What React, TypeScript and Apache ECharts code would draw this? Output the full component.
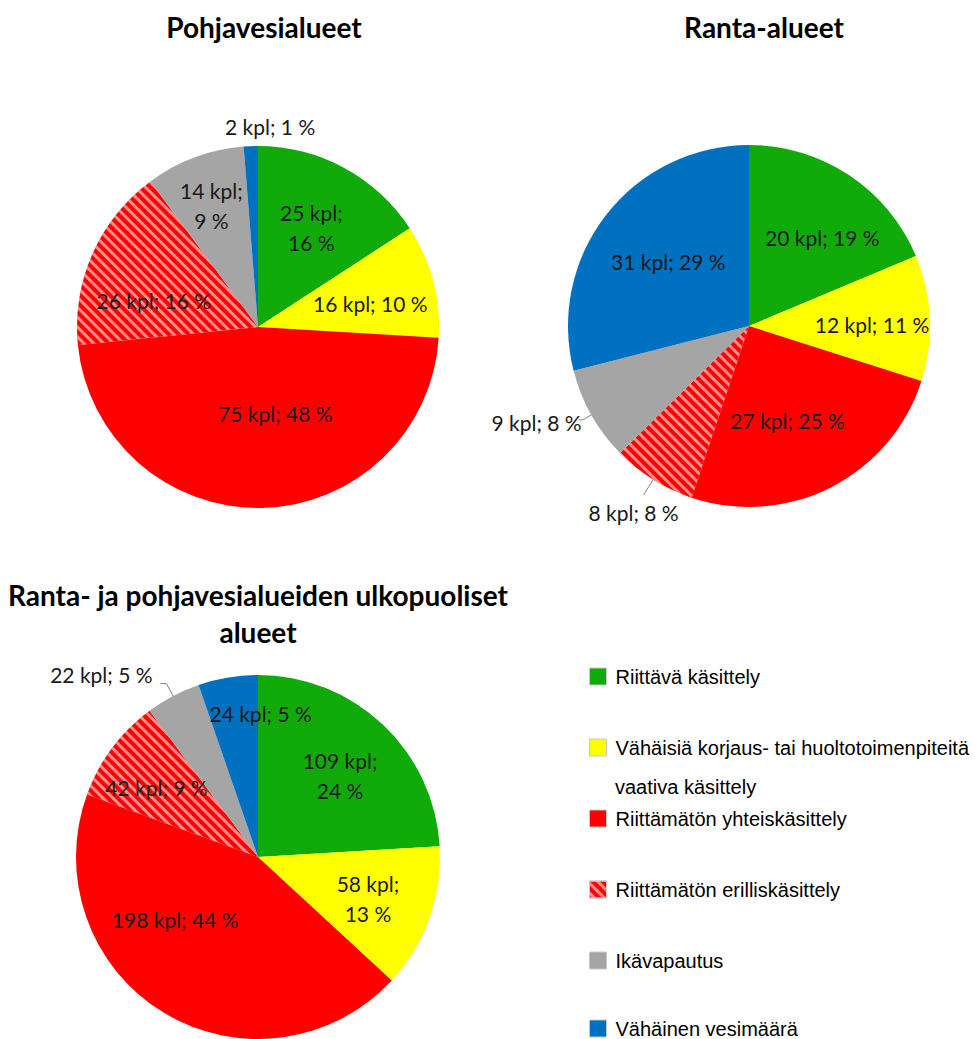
import React, { useEffect, useRef } from 'react';
import * as echarts from 'echarts';

const categories = [
  'Riittävä käsittely',
  'Vähäisiä korjaus- tai huoltotoimenpiteitä vaativa käsittely',
  'Riittämätön yhteiskäsittely',
  'Riittämätön erilliskäsittely',
  'Ikävapautus',
  'Vähäinen vesimäärä',
];
const legendFirstLines = [
  'Riittävä käsittely',
  'Vähäisiä korjaus- tai huoltotoimenpiteitä',
  'Riittämätön yhteiskäsittely',
  'Riittämätön erilliskäsittely',
  'Ikävapautus',
  'Vähäinen vesimäärä',
];
const legendSecondLine = 'vaativa käsittely';
const titles = ['Pohjavesialueet', 'Ranta-alueet', 'Ranta- ja pohjavesialueiden ulkopuoliset\nalueet'];
const pohjavesiValues = [25, 16, 75, 26, 14, 2];
const rantaValues = [20, 12, 27, 8, 9, 31];
const ulkopuolisetValues = [109, 58, 198, 42, 22, 24];

const colors = ['#10AB08', '#FFFF00', '#FF0000', '#FF0000', '#A5A5A5', '#0070C0'];
const hatch = {
  symbol: 'rect',
  symbolSize: 1,
  dashArrayX: [1, 0],
  dashArrayY: [3, 4],
  rotation: Math.PI / 4,
  color: 'rgba(255,255,255,0.55)',
};

// label offsets (style tweaks) per slice
const pieLayouts = [
  {
    values: pohjavesiValues, center: [258, 327], r: 181, twoLine: [0, 4], outside: [5], noLine: [5],
    offsets: [[-2, 3], [0, 6], [15, -30], [2, 21], [-6, -13], [76, -6]],
    lines: {},
  },
  {
    values: rantaValues, center: [749, 326], r: 181, twoLine: [], outside: [3, 4], noLine: [],
    offsets: [[9, 8], [7, 4], [-14, -9], [40, 18], [8, 3], [11, 7]],
    lines: { 3: [18, 0], 4: [10, 4] },
  },
  {
    values: ulkopuolisetValues, center: [258, 857], r: 182, twoLine: [0, 1], outside: [4], noLine: [],
    offsets: [[2, 3], [0, 2], [-22, -37], [-8, 0], [-3, -9], [22, -28]],
    lines: {},
  },
];
const titlePos = [
  [264, 27],
  [764, 27],
  [258, 613],
];
const legendCenters = [678, 749, 820, 891, 962, 1030];

const labelFont = 'Lato, "Open Sans", sans-serif';
const legendFont = '"Liberation Sans", Arial, sans-serif';

function buildSeries(p: any) {
  const base = {
    type: 'pie',
    center: p.center,
    radius: p.r,
    startAngle: 90,
    clockwise: true,
    percentPrecision: 0,
    label: { show: false },
    labelLine: { show: false },
    emphasis: { disabled: true },
    data: p.values.map((v: number, i: number) => ({
      name: categories[i],
      value: v,
      itemStyle: i === 3 ? { color: colors[i], decal: hatch } : { color: colors[i] },
    })),
  };
  const labels = {
    type: 'pie',
    center: p.center,
    radius: [p.r * 0.25, p.r],
    startAngle: 90,
    clockwise: true,
    percentPrecision: 0,
    silent: true,
    avoidLabelOverlap: false,
    emphasis: { disabled: true },
    itemStyle: { color: 'rgba(0,0,0,0)' },
    label: {
      show: true,
      position: 'inside',
      formatter: '{c} kpl; {d} %',
      fontFamily: labelFont,
      fontSize: 21,
      color: '#1a1a1a',
      lineHeight: 30,
    },
    labelLine: { show: true, length: 14, length2: 6, lineStyle: { color: '#808080', width: 1 } },
    data: p.values.map((v: number, i: number) => {
      const label: any = { offset: p.offsets[i] };
      if (p.twoLine.includes(i)) label.formatter = '{c} kpl;\n{d} %';
      if (p.outside.includes(i)) label.position = 'outside';
      const labelLine: any = { show: p.outside.includes(i) && !p.noLine.includes(i) };
      if (p.lines[i]) {
        labelLine.length = p.lines[i][0];
        labelLine.length2 = p.lines[i][1];
      }
      return { name: categories[i], value: v, label, labelLine };
    }),
  };
  return [base, labels];
}

export default function App() {
  const ref = useRef<HTMLDivElement>(null);
  useEffect(() => {
    document.body.style.margin = '0';
    const chart = echarts.init(ref.current!, null, { renderer: 'svg' });
    const series: any[] = [];
    pieLayouts.forEach((p) => series.push(...buildSeries(p)));
    const legend = categories.map((name, i) => ({
      data: [name],
      left: 589,
      top: legendCenters[i] - 11.5,
      orient: 'vertical',
      icon: 'rect',
      itemWidth: 17,
      itemHeight: 17,
      padding: 0,
      selectedMode: false,
      formatter: () => legendFirstLines[i],
      itemStyle: { borderColor: '#c8c8c8', borderWidth: 1 },
      textStyle: { fontFamily: legendFont, fontSize: 20, color: '#000', padding: [0, 0, 0, 4] },
    }));
    const graphic: any[] = titles.map((t, i) => ({
      type: 'text',
      x: titlePos[i][0],
      y: titlePos[i][1],
      style: {
        text: t,
        align: 'center',
        verticalAlign: 'middle',
        fontFamily: labelFont,
        fontWeight: 'bold',
        fontSize: 28,
        lineHeight: 37,
        fill: '#000',
      },
    }));
    graphic.push({
      type: 'text',
      x: 615,
      y: 787,
      style: {
        text: legendSecondLine,
        align: 'left',
        verticalAlign: 'middle',
        fontFamily: legendFont,
        fontSize: 20,
        fill: '#000',
      },
    });
    chart.setOption({
      animation: false,
      backgroundColor: '#fff',
      legend,
      graphic,
      series,
    });
    return () => chart.dispose();
  }, []);
  return <div ref={ref} style={{ width: 975, height: 1039 }} />;
}
